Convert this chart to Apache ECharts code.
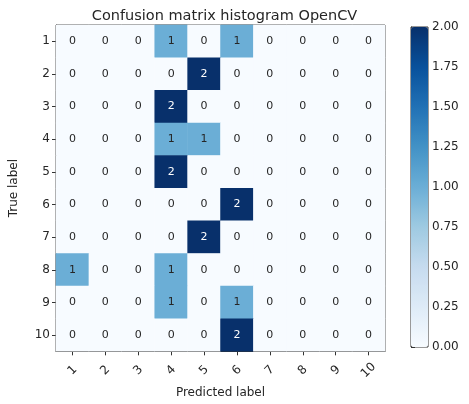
<!DOCTYPE html>
<html>
<head>
<meta charset="utf-8">
<script src="https://cdn.jsdelivr.net/npm/echarts@6/dist/echarts.min.js"></script>
<style>
  html, body { margin: 0; padding: 0; background: #fff; }
  #chart { width: 469px; height: 404px; }
</style>
</head>
<body>
<div id="chart"></div>
<script>
// Class labels for both axes
const predictedLabels = ['1', '2', '3', '4', '5', '6', '7', '8', '9', '10'];
const trueLabels = ['1', '2', '3', '4', '5', '6', '7', '8', '9', '10'];

// Confusion counts, one row per true label
const row1 = [0, 0, 0, 1, 0, 1, 0, 0, 0, 0];
const row2 = [0, 0, 0, 0, 2, 0, 0, 0, 0, 0];
const row3 = [0, 0, 0, 2, 0, 0, 0, 0, 0, 0];
const row4 = [0, 0, 0, 1, 1, 0, 0, 0, 0, 0];
const row5 = [0, 0, 0, 2, 0, 0, 0, 0, 0, 0];
const row6 = [0, 0, 0, 0, 0, 2, 0, 0, 0, 0];
const row7 = [0, 0, 0, 0, 2, 0, 0, 0, 0, 0];
const row8 = [1, 0, 0, 1, 0, 0, 0, 0, 0, 0];
const row9 = [0, 0, 0, 1, 0, 1, 0, 0, 0, 0];
const row10 = [0, 0, 0, 0, 0, 2, 0, 0, 0, 0];
const matrixRows = [row1, row2, row3, row4, row5, row6, row7, row8, row9, row10];

// Colour bar scale
const colorMin = 0;
const colorMax = 2;
const colorStep = 0.25;

// Matplotlib "Blues" colormap stops
const blues = ['#f7fbff', '#deebf7', '#c6dbef', '#9ecae1', '#6baed6',
               '#4292c6', '#2171b5', '#08519c', '#08306b'];

const cells = [];
matrixRows.forEach((row, r) => {
  row.forEach((v, c) => cells.push([c, r, v]));
});
const threshold = colorMax / 2;

const font = '"DejaVu Sans"';
const textColor = '#262626';
const chart = echarts.init(document.getElementById('chart'), null, { renderer: 'canvas' });

chart.setOption({
  animation: false,
  textStyle: { fontFamily: font },
  title: {
    text: 'Confusion matrix histogram OpenCV',
    left: 219.5,
    textAlign: 'center',
    top: 4,
    textStyle: { fontFamily: font, fontSize: 14.5, fontWeight: 'normal', color: textColor }
  },
  grid: [
    { left: 54, top: 25, width: 331, height: 332, show: true, borderColor: '#333', borderWidth: 1, backgroundColor: 'transparent' },
    { left: 411, top: 27, width: 17, height: 320, show: true, borderColor: '#333', borderWidth: 1, backgroundColor: 'transparent' }
  ],
  xAxis: [
    {
      type: 'category', gridIndex: 0, data: predictedLabels, position: 'bottom',
      name: 'Predicted label', nameLocation: 'middle', nameGap: 35,
      nameTextStyle: { fontFamily: font, fontSize: 12, color: textColor },
      axisLine: { show: true, lineStyle: { color: '#333' } },
      axisTick: { show: true, alignWithLabel: true, length: 4, lineStyle: { color: '#333' } },
      axisLabel: { rotate: 45, align: 'center', verticalAlign: 'middle',
                   fontFamily: font, fontSize: 12, color: textColor, margin: 19 },
      splitLine: { show: false }
    },
    {
      type: 'value', gridIndex: 1, show: false, min: 0, max: 1
    }
  ],
  yAxis: [
    {
      type: 'category', gridIndex: 0, data: trueLabels, inverse: true,
      name: 'True label', nameLocation: 'middle', nameGap: 36, nameRotate: 90,
      nameTextStyle: { fontFamily: font, fontSize: 12, color: textColor },
      axisLine: { show: true, lineStyle: { color: '#333' } },
      axisTick: { show: true, alignWithLabel: true, length: 4, lineStyle: { color: '#333' } },
      axisLabel: { fontFamily: font, fontSize: 12, color: textColor, margin: 6 },
      splitLine: { show: false }
    },
    {
      type: 'value', gridIndex: 1, position: 'right',
      min: colorMin, max: colorMax, interval: colorStep,
      axisLine: { show: true, lineStyle: { color: '#333' } },
      axisTick: { show: true, length: 4, lineStyle: { color: '#333' } },
      axisLabel: { fontFamily: font, fontSize: 12, color: textColor, margin: 4,
                   formatter: v => v.toFixed(2) },
      splitLine: { show: false }
    }
  ],
  visualMap: {
    type: 'continuous',
    seriesIndex: 0,
    min: colorMin, max: colorMax,
    calculable: false,
    hoverLink: false,
    orient: 'vertical',
    left: 411, top: 27,
    itemWidth: 17, itemHeight: 320,
    padding: 0,
    text: ['', ''],
    textGap: 0,
    inRange: { color: blues }
  },
  series: [
    {
      type: 'heatmap',
      xAxisIndex: 0, yAxisIndex: 0,
      data: cells.map(d => ({
        value: d,
        label: { color: d[2] > threshold ? '#ffffff' : textColor }
      })),
      label: {
        show: true,
        fontFamily: font,
        fontSize: 11,
        formatter: p => String(p.value[2])
      },
      itemStyle: { borderWidth: 0 }
    },
    {
      type: 'line', xAxisIndex: 1, yAxisIndex: 1, data: [], silent: true
    }
  ]
});
</script>
</body>
</html>
